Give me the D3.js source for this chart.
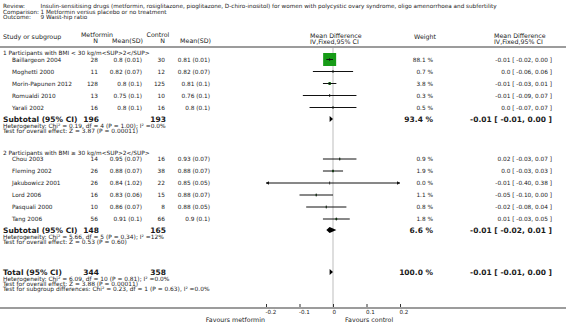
<!DOCTYPE html>
<html>
<head>
<meta charset="utf-8">
<script src="https://cdn.jsdelivr.net/npm/d3@7"></script>
<style>
  body { margin: 0; background: #fff; }
  svg text { font-family: "DejaVu Sans", Verdana, sans-serif; fill: #1a1a1a; }
</style>
</head>
<body>
<div id="chart"></div>
<script>
// ---- data ----
var reviewTitle = "Insulin-sensitising drugs (metformin, rosiglitazone, pioglitazone, D-chiro-inositol) for women with polycystic ovary syndrome, oligo amenorrhoea and subfertility";
var comparisonTitle = "1 Metformin versus placebo or no treatment";
var outcomeTitle = "9 Waist-hip ratio";

var subgroupTitles = ["1 Participants with BMI < 30 kg/m<SUP>2</SUP>", "2 Participants with BMI \u2265 30 kg/m<SUP>2</SUP>"];

var studyNames = ["Baillargeon 2004", "Moghetti 2000", "Morin-Papunen 2012", "Romualdi 2010", "Yarali 2002",
                  "Chou 2003", "Fleming 2002", "Jakubowicz 2001", "Lord 2006", "Pasquali 2000", "Tang 2006"];
var metN = [28, 11, 128, 13, 16, 14, 26, 26, 16, 10, 56];
var metMean = [0.8, 0.82, 0.8, 0.75, 0.8, 0.95, 0.88, 0.84, 0.83, 0.86, 0.91];
var metSD = [0.01, 0.07, 0.1, 0.1, 0.1, 0.07, 0.07, 1.02, 0.06, 0.07, 0.1];
var ctlN = [30, 12, 125, 10, 16, 16, 38, 22, 15, 8, 66];
var ctlMean = [0.81, 0.82, 0.81, 0.76, 0.8, 0.93, 0.88, 0.85, 0.88, 0.88, 0.9];
var ctlSD = [0.01, 0.07, 0.1, 0.1, 0.1, 0.07, 0.07, 0.05, 0.07, 0.05, 0.1];
var weights = [88.1, 0.7, 3.8, 0.3, 0.5, 0.9, 1.9, 0.0, 1.1, 0.8, 1.8];
var md = [-0.01, 0.0, -0.01, -0.01, 0.0, 0.02, 0.0, -0.01, -0.05, -0.02, 0.01];
var ciLow = [-0.02, -0.06, -0.03, -0.09, -0.07, -0.03, -0.03, -0.40, -0.10, -0.08, -0.03];
var ciHigh = [0.00, 0.06, 0.01, 0.07, 0.07, 0.07, 0.03, 0.38, 0.00, 0.04, 0.05];

// subtotals (group 1, group 2) and total
var subMetN = [196, 148], subCtlN = [193, 165];
var subWeight = [93.4, 6.6];
var subMD = [-0.01, -0.01], subLow = [-0.01, -0.02], subHigh = [0.00, 0.01];
var subHet = ["Heterogeneity: Chi\u00b2 = 0.19, df = 4 (P = 1.00); I\u00b2 =0.0%", "Heterogeneity: Chi\u00b2 = 5.66, df = 5 (P = 0.34); I\u00b2 =12%"];
var subTest = ["Test for overall effect: Z = 3.87 (P = 0.00011)", "Test for overall effect: Z = 0.53 (P = 0.60)"];
var totalMetN = 344, totalCtlN = 358, totalWeight = 100.0;
var totalMD = -0.01, totalLow = -0.01, totalHigh = 0.00;
var totalNotes = ["Heterogeneity: Chi\u00b2 = 6.09, df = 10 (P = 0.81); I\u00b2 =0.0%",
                  "Test for overall effect: Z = 3.88 (P = 0.00011)",
                  "Test for subgroup differences: Chi\u00b2 = 0.23, df = 1 (P = 0.63), I\u00b2 =0.0%"];
var tickValues = [-0.2, -0.1, 0, 0.1, 0.2];
var favoursLeft = "Favours metformin", favoursRight = "Favours control";

// ---- layout ----
var W = 566, H = 332;
var col = { label: 3, study: 12, metN: 98, metMean: 142, ctlN: 165, ctlMean: 210, weight: 433, ci: 552 };
var studyY = [59.5, 71.5, 83.5, 95.5, 107.5, 159, 171, 183, 195, 207, 219];
var groupTitleY = [53, 153];
var subtotalY = [119, 230];
var totalY = 272;
var axisY = 308;
var bodySize = 5.8, noteSize = 5.9, titleSize = 5.7, headSize = 6.3, boldSize = 7.5;

var x = d3.scaleLinear().domain([-0.2, 0.2]).range([266, 400]);

var svg = d3.select("#chart").append("svg").attr("width", W).attr("height", H);

function txt(xp, yp, s, anchor, size, weight)
{
  return svg.append("text")
    .attr("x", xp).attr("y", yp)
    .attr("dy", "0.35em")
    .attr("text-anchor", anchor || "start")
    .style("font-size", (size || bodySize) + "px")
    .style("font-weight", weight || "normal")
    .text(s);
}
function fmtMD(v) { return v === 0 ? "0.0" : v.toFixed(2); }
function fmtCI(m, lo, hi) { return fmtMD(m) + " [ " + lo.toFixed(2) + ", " + hi.toFixed(2) + " ]"; }
function fmtW(w) { return w.toFixed(1) + " %"; }

/** title block: values line up after the widest label */
var titleLabels = ["Review:", "Comparison:", "Outcome:"];
var titleValues = [reviewTitle, comparisonTitle, outcomeTitle];
var titleY = [6.5, 12, 17.5];
var labelNodes = titleLabels.map(function(s, i) { return txt(col.label, titleY[i], s, "start", titleSize); });
var valueX = col.label + d3.max(labelNodes, function(n) { return n.node().getComputedTextLength(); }) + 1.5;
titleValues.forEach(function(s, i) { txt(valueX, titleY[i], s, "start", titleSize); });

/** column headers */
txt(col.label, 37, "Study or subgroup", "start", headSize);
txt(97, 34.5, "Metformin", "middle", headSize);
txt(col.metN, 40.5, "N", "end", headSize);
txt(col.metMean + 1, 40.5, "Mean(SD)", "end", headSize);
txt(158, 34.5, "Control", "middle", headSize);
txt(col.ctlN, 40.5, "N", "end", headSize);
txt(col.ctlMean + 1, 40.5, "Mean(SD)", "end", headSize);
txt(310, 36, "Mean Difference", "start", headSize);
txt(310, 41.5, "IV,Fixed,95% CI", "start", headSize);
txt(col.weight + 3, 37, "Weight", "end", headSize);
txt(494, 36, "Mean Difference", "start", headSize);
txt(494, 41.5, "IV,Fixed,95% CI", "start", headSize);

svg.append("line").attr("x1", 0).attr("x2", W).attr("y1", 47).attr("y2", 47)
  .attr("stroke", "#9c9c9c").attr("stroke-width", 2);

/** zero line */
svg.append("line").attr("x1", x(0)).attr("x2", x(0)).attr("y1", 48).attr("y2", axisY)
  .attr("stroke", "#bdbdbd").attr("stroke-width", 1);

/** subgroup titles, subtotals */
groupTitleY.forEach(function(y, g)
{
  txt(col.label, y, subgroupTitles[g]);
  var sy = subtotalY[g];
  txt(col.label, sy, "Subtotal (95% CI)", "start", boldSize, "bold");
  txt(col.metN + 1, sy, subMetN[g], "end", boldSize, "bold");
  txt(col.ctlN + 1, sy, subCtlN[g], "end", boldSize, "bold");
  txt(col.weight, sy, fmtW(subWeight[g]), "end", boldSize, "bold");
  txt(col.ci, sy, fmtCI(subMD[g], subLow[g], subHigh[g]), "end", boldSize, "bold");
  txt(col.label, sy + 6.5, subHet[g], "start", noteSize);
  txt(col.label, sy + 11.8, subTest[g], "start", noteSize);
});

/** total */
txt(col.label, totalY, "Total (95% CI)", "start", boldSize, "bold");
txt(col.metN + 1, totalY, totalMetN, "end", boldSize, "bold");
txt(col.ctlN + 1, totalY, totalCtlN, "end", boldSize, "bold");
txt(col.weight, totalY, fmtW(totalWeight), "end", boldSize, "bold");
txt(col.ci, totalY, fmtCI(totalMD, totalLow, totalHigh), "end", boldSize, "bold");
totalNotes.forEach(function(s, i) { txt(col.label, totalY + 6.5 + i * 5.2, s, "start", noteSize); });

/** study rows */
studyNames.forEach(function(name, i)
{
  var y = studyY[i];
  txt(col.study, y, name);
  txt(col.metN, y, metN[i], "end");
  txt(col.metMean, y, String(metMean[i]) + " (" + String(metSD[i]) + ")", "end");
  txt(col.ctlN, y, ctlN[i], "end");
  txt(col.ctlMean, y, String(ctlMean[i]) + " (" + String(ctlSD[i]) + ")", "end");
  txt(col.weight, y, fmtW(weights[i]), "end");
  txt(col.ci, y, fmtCI(md[i], ciLow[i], ciHigh[i]), "end");
});

/** study markers */
var lo = x.domain()[0], hi = x.domain()[1];
var maxW = d3.max(weights);
studyNames.forEach(function(name, i)
{
  var y = studyY[i];
  var s = Math.max(1.2, Math.sqrt(weights[i] / maxW) * 13);
  if (weights[i] > 0)
    svg.append("rect").attr("x", x(md[i]) - s / 2).attr("y", y - s / 2)
      .attr("width", s).attr("height", s).attr("fill", "#169b16");
  var a = Math.max(lo, ciLow[i]), b = Math.min(hi, ciHigh[i]);
  svg.append("line").attr("x1", x(a)).attr("x2", x(b)).attr("y1", y).attr("y2", y)
    .attr("stroke", "#111").attr("stroke-width", 1);
  svg.append("line").attr("x1", x(md[i])).attr("x2", x(md[i])).attr("y1", y - 1.5).attr("y2", y + 1.5)
    .attr("stroke", "#111").attr("stroke-width", 0.8);
  if (ciLow[i] < lo)
    svg.append("path").attr("d", "M" + x(lo) + "," + y + "l3,-1.8v3.6z").attr("fill", "#111");
  if (ciHigh[i] > hi)
    svg.append("path").attr("d", "M" + x(hi) + "," + y + "l-3,-1.8v3.6z").attr("fill", "#111");
});

/** diamonds */
function diamond(m, l, h, y)
{
  svg.append("path")
    .attr("d", "M" + x(l) + "," + y + "L" + x(m) + "," + (y - 3) + "L" + x(h) + "," + y + "L" + x(m) + "," + (y + 3) + "Z")
    .attr("fill", "#000");
}
subtotalY.forEach(function(y, g) { diamond(subMD[g], subLow[g], subHigh[g], y); });
diamond(totalMD, totalLow, totalHigh, totalY);

/** axis */
svg.append("line").attr("x1", 0).attr("x2", W).attr("y1", axisY).attr("y2", axisY)
  .attr("stroke", "#9c9c9c").attr("stroke-width", 2);
var axis = d3.axisBottom(x).tickValues(tickValues).tickSizeInner(-3).tickSizeOuter(0).tickPadding(3)
  .tickFormat(function(d) { return d === 0 ? "0" : d.toFixed(1); });
var g = svg.append("g").attr("transform", "translate(0," + (axisY - 1) + ")").call(axis);
g.select(".domain").remove();
g.selectAll(".tick line").attr("stroke", "#333");
g.selectAll(".tick text").attr("text-anchor", "start").attr("dx", "-1").attr("fill", "#1a1a1a")
  .style("font-size", "5.6px").style("font-family", "DejaVu Sans");

txt(x(-0.2) - 1, 319.5, favoursLeft, "end", 6.3);
txt(345, 319.5, favoursRight, "start", 6.3);
</script>
</body>
</html>
